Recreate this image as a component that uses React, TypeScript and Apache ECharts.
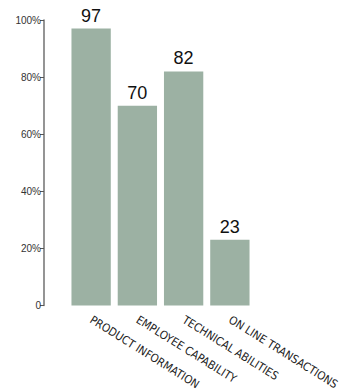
import React, { useEffect, useRef } from "react";
import * as echarts from "echarts";

const categories = ["PRODUCT INFORMATION", "EMPLOYEE CAPABILITY", "TECHNICAL ABILITIES", "ON LINE TRANSACTIONS"];
const values = [97, 70, 82, 23];
const yTicks = [0, 20, 40, 60, 80, 100];

export default function App() {
  const ref = useRef<HTMLDivElement>(null);
  useEffect(() => {
    document.body.style.margin = "0";
    const chart = echarts.init(ref.current!, undefined, { renderer: "svg" });
    chart.setOption({
      animation: false,
      grid: { left: 68, right: 90, top: 20, bottom: 86.5, outerBoundsMode: "none", containLabel: false },
      xAxis: {
        type: "category",
        data: categories,
        axisLine: { show: false },
        axisTick: { show: false },
        axisLabel: {
          interval: 0,
          rotate: -32,
          fontSize: 11.5,
          fontFamily: "'Liberation Sans Narrow', 'DejaVu Sans Condensed', sans-serif",
          color: "#222",
          margin: 13,
        },
      },
      yAxis: {
        type: "value",
        min: 0,
        max: 100,
        interval: 20,
        offset: 24,
        splitLine: { show: false },
        axisLine: { show: true, lineStyle: { color: "#7a7a7a", width: 1.6 } },
        axisTick: { show: true, inside: false, length: 4, lineStyle: { color: "#555", width: 1 } },
        axisLabel: {
          fontSize: 10,
          fontFamily: "Liberation Sans",
          color: "#333",
          margin: 3,
          formatter: (v: number) => (yTicks.includes(v) ? (v === 0 ? "0" : v + "%") : ""),
        },
      },
      series: [
        {
          type: "bar",
          data: values,
          barCategoryGap: "15%",
          itemStyle: { color: "#9cb1a3" },
          label: {
            show: true,
            position: "top",
            distance: 4,
            fontSize: 18,
            fontWeight: "normal",
            fontFamily: "Liberation Sans",
            color: "#111",
          },
        },
      ],
    });
    return () => chart.dispose();
  }, []);
  return <div ref={ref} style={{ width: 343, height: 392 }} />;
}
